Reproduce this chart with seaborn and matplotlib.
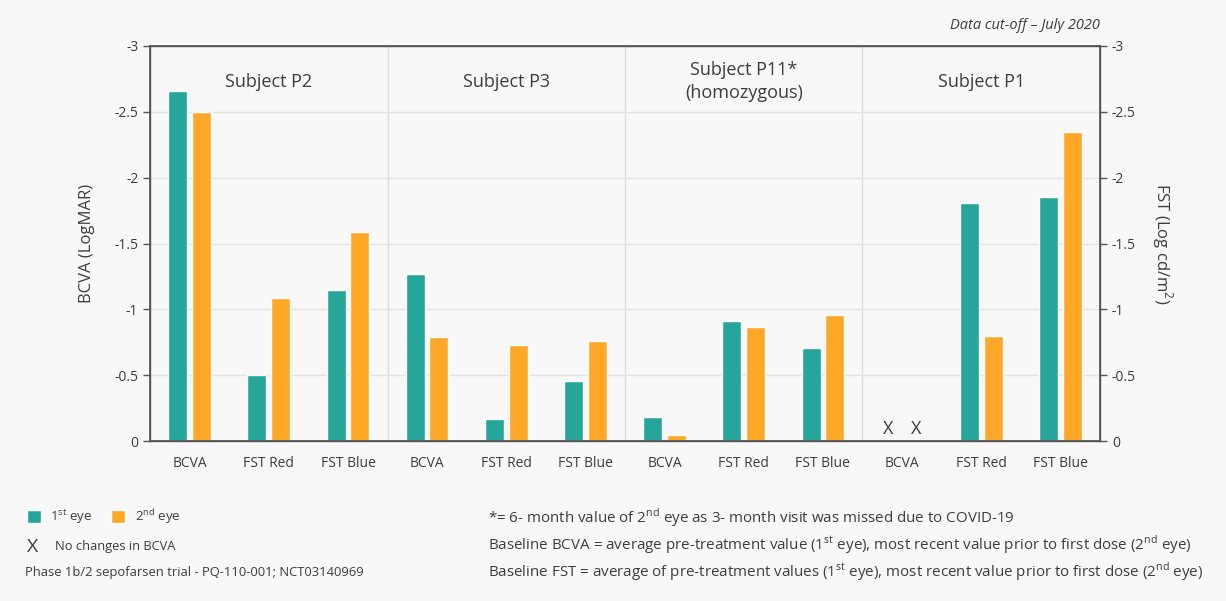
import pandas as pd
import matplotlib.pyplot as plt
import seaborn as sns
from matplotlib.patches import Patch

# Data (values in LogMAR / Log cd/m2)
subjects = ["Subject P2", "Subject P3", "Subject P11*\n(homozygous)", "Subject P1"]
measures = ["BCVA", "FST Red", "FST Blue"]
first_eye = [-2.66, -0.50, -1.15,
             -1.27, -0.17, -0.46,
             -0.18, -0.91, -0.71,
             0.0, -1.81, -1.85]
second_eye = [-2.50, -1.09, -1.59,
              -0.79, -0.73, -0.76,
              -0.05, -0.87, -0.96,
              0.0, -0.80, -2.35]
no_change_slot = 9  # P1 BCVA, marked with X

TEAL = "#26a69a"
ORANGE = "#ffa726"
BG = "#f8f8f8"
TXT = "#3c3c3c"

# Build long table
slots = [f"{s}|{m}" for s in subjects for m in measures]
rows = []
for i, slot in enumerate(slots):
    rows.append({"slot": slot, "eye": "1st eye", "value": first_eye[i]})
    rows.append({"slot": slot, "eye": "2nd eye", "value": second_eye[i]})
df = pd.DataFrame(rows)

sns.set_theme(style="white")
plt.rcParams['font.family'] = ['Open Sans', 'DejaVu Sans']
plt.rcParams['text.color'] = TXT
plt.rcParams['axes.labelcolor'] = TXT
plt.rcParams['xtick.color'] = TXT
plt.rcParams['ytick.color'] = TXT

fig = plt.figure(figsize=(12.26, 6.01), dpi=100, facecolor=BG)
ax = fig.add_axes([0.1224, 0.266, 0.7748, 0.6575])
ax.set_facecolor(BG)

sns.barplot(data=df, x="slot", y="value", hue="eye", order=slots,
            palette=[TEAL, ORANGE], saturation=1, width=0.6, gap=0.2, ax=ax,
            legend=False, errorbar=None)

ax.set_ylim(0, -3)
ax.set_yticks([0, -0.5, -1, -1.5, -2, -2.5, -3])
ax.set_yticklabels(["0", "-0.5", "-1", "-1.5", "-2", "-2.5", "-3"], fontsize=10)
ax.set_xlim(-0.5, len(slots) - 0.5)
ax.yaxis.grid(True, color="#e3e3e3", linewidth=1)
ax.set_axisbelow(True)

# tick labels at category centres, tick marks at category borders
ax.set_xticks(range(len(slots)))
ax.set_xticklabels(measures * len(subjects), fontsize=10)
ax.tick_params(axis="x", which="major", length=0, pad=11)
ax.set_xticks([i - 0.5 for i in range(len(slots) + 1)], minor=True)
ax.tick_params(axis="x", which="minor", length=5, color="#555555", width=1)
ax.tick_params(axis="y", length=5, color="#555555", width=1, left=True)
ax.set_xlabel("")
ax.set_ylabel("BCVA (LogMAR)", fontsize=12, labelpad=14)

for side in ["left", "right", "bottom", "top"]:
    ax.spines[side].set_visible(True)
    ax.spines[side].set_color("#555555")
    ax.spines[side].set_linewidth(1)

# subject dividers and titles
for k in range(1, len(subjects)):
    ax.axvline(k * 3 - 0.5, color="#dddddd", linewidth=1, zorder=0)
for k, s in enumerate(subjects):
    ax.text(k * 3 + 1, -2.73, s, ha="center", va="center", fontsize=13,
            color=TXT, linespacing=1.3)

# X marks for no change in BCVA
for dx in (-0.18, 0.18):
    ax.text(no_change_slot + dx, -0.02, "X", ha="center", va="bottom",
            fontsize=13, color=TXT)

# right axis
ax2 = ax.twinx()
ax2.set_ylim(0, -3)
ax2.set_yticks([0, -0.5, -1, -1.5, -2, -2.5, -3])
ax2.set_yticklabels(["0", "-0.5", "-1", "-1.5", "-2", "-2.5", "-3"], fontsize=10)
ax2.tick_params(axis="y", length=5, color="#555555", width=1, right=True)
ax2.set_ylabel("FST (Log cd/m$^{\\mathregular{2}}$)", fontsize=12, rotation=270,
               labelpad=28)
for side in ["left", "right", "bottom", "top"]:
    ax2.spines[side].set_color("#555555")

fig.text(0.897, 0.958, "Data cut-off \u2013 July 2020", ha="right", va="center",
         fontsize=10.5, style="italic", color=TXT)

# legend
handles = [Patch(facecolor=TEAL, label="1$^{\\mathregular{st}}$ eye"),
           Patch(facecolor=ORANGE, label="2$^{\\mathregular{nd}}$ eye")]
fig.legend(handles=handles, loc="center left", bbox_to_anchor=(0.012, 0.14),
           ncol=2, frameon=False, fontsize=9.5, handlelength=1.1,
           handleheight=1.1, columnspacing=1.4, handletextpad=0.7)
fig.text(0.022, 0.09, "X", fontsize=14, va="center", color=TXT)
fig.text(0.045, 0.09, "No changes in BCVA", fontsize=9.3, va="center", color=TXT)
fig.text(0.02, 0.047, "Phase 1b/2 sepofarsen trial - PQ-110-001; NCT03140969",
         fontsize=9.4, va="center", color=TXT)

notes = ["*= 6- month value of 2$^{\\mathregular{nd}}$ eye as 3- month visit was missed due to COVID-19",
         "Baseline BCVA = average pre-treatment value (1$^{\\mathregular{st}}$ eye), most recent value prior to first dose (2$^{\\mathregular{nd}}$ eye)",
         "Baseline FST = average of pre-treatment values (1$^{\\mathregular{st}}$ eye), most recent value prior to first dose (2$^{\\mathregular{nd}}$ eye)"]
for j, note in enumerate(notes):
    fig.text(0.398, 0.138 - j * 0.045, note, fontsize=10.9, va="center", color=TXT)

fig.savefig("out.png", dpi=100, facecolor=BG)
